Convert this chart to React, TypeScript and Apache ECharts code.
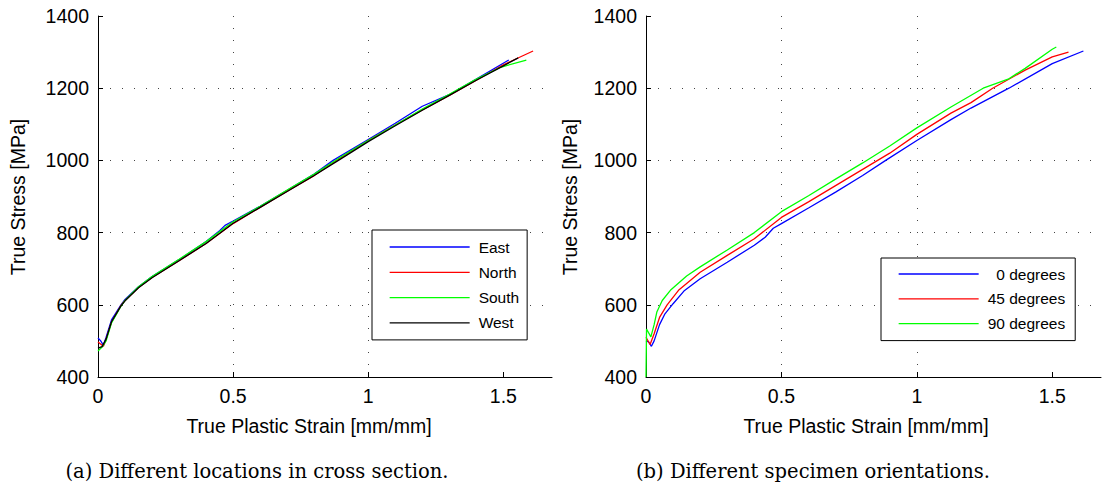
import React, { useEffect, useRef } from "react";
import * as echarts from "echarts";

// ---- data (strain [mm/mm], stress [MPa]) ----
const eastStrain = [0, 0.01, 0.02, 0.03, 0.05, 0.085, 0.1, 0.15, 0.2, 0.3, 0.4, 0.45, 0.47, 0.5, 0.6, 0.7, 0.8, 0.87, 1.0, 1.1, 1.2, 1.3, 1.4, 1.52];
const eastStress = [508, 500, 488, 510, 558, 600, 615, 650, 678, 725, 775, 805, 820, 832, 873, 917, 962, 1000, 1058, 1103, 1150, 1182, 1225, 1278];
const northStrain = [0, 0.02, 0.03, 0.05, 0.085, 0.1, 0.15, 0.2, 0.3, 0.4, 0.5, 0.6, 0.7, 0.8, 0.9, 1.0, 1.1, 1.2, 1.3, 1.4, 1.5, 1.61];
const northStress = [497, 485, 505, 552, 598, 612, 648, 676, 722, 770, 825, 870, 915, 958, 1008, 1055, 1098, 1140, 1180, 1222, 1265, 1303];
const southStrain = [0, 0.015, 0.03, 0.05, 0.085, 0.1, 0.15, 0.2, 0.3, 0.4, 0.5, 0.6, 0.7, 0.8, 0.9, 1.0, 1.1, 1.2, 1.3, 1.4, 1.49, 1.585];
const southStress = [472, 483, 500, 550, 596, 612, 650, 678, 726, 775, 830, 873, 918, 962, 1010, 1055, 1098, 1142, 1183, 1225, 1258, 1278];
const westStrain = [0, 0.015, 0.03, 0.05, 0.085, 0.1, 0.15, 0.2, 0.3, 0.4, 0.5, 0.6, 0.7, 0.8, 0.9, 1.0, 1.1, 1.2, 1.3, 1.4, 1.5, 1.555];
const westStress = [480, 484, 505, 553, 597, 611, 647, 675, 722, 770, 826, 870, 914, 958, 1005, 1052, 1096, 1139, 1180, 1222, 1262, 1284];

const deg0Strain = [0, 0.01, 0.02, 0.03, 0.05, 0.07, 0.1, 0.14, 0.2, 0.3, 0.4, 0.44, 0.47, 0.5, 0.6, 0.7, 0.8, 0.885, 1.0, 1.126, 1.2, 1.34, 1.5, 1.615];
const deg0Stress = [500, 497, 485, 500, 545, 575, 603, 638, 672, 718, 765, 787, 812, 825, 868, 912, 958, 1000, 1055, 1113, 1145, 1200, 1268, 1303];
const deg45Strain = [0, 0.015, 0.03, 0.05, 0.078, 0.12, 0.2, 0.3, 0.4, 0.5, 0.6, 0.7, 0.8, 0.9, 1.0, 1.126, 1.2, 1.28, 1.4, 1.5, 1.56];
const deg45Stress = [510, 490, 520, 565, 600, 640, 690, 737, 783, 842, 885, 930, 975, 1020, 1072, 1131, 1160, 1200, 1250, 1287, 1300];
const deg90Strain = [0, 0.002, 0.018, 0.03, 0.04, 0.06, 0.09, 0.15, 0.2, 0.3, 0.4, 0.5, 0.6, 0.7, 0.8, 0.9, 1.0, 1.126, 1.245, 1.337, 1.4, 1.5, 1.515];
const deg90Stress = [400, 533, 511, 545, 580, 612, 640, 680, 705, 752, 800, 858, 902, 948, 993, 1040, 1090, 1148, 1200, 1225, 1255, 1308, 1314];

const xTicks = [0, 0.5, 1, 1.5];
const yTicks = [400, 600, 800, 1000, 1200, 1400];

const leftNames = ["East", "North", "South", "West"];
const rightNames = ["0 degrees", "45 degrees", "90 degrees"];

const zip = (xs: number[], ys: number[]) => xs.map((x, i) => [x, ys[i]]);

const FONT = "Liberation Sans";
const AX = 19.5;

export default function App() {
  const ref = useRef<HTMLDivElement>(null);
  useEffect(() => {
    if (!ref.current) return;
    const chart = echarts.init(ref.current, null, { renderer: "svg" });
    const gridLine = { show: true, showMinLine: false, showMaxLine: false, lineStyle: { color: "#444", width: 1, type: [1, 11] } };
    const xAxis = (gi: number) => ({
      type: "value", gridIndex: gi, min: 0, max: 1.68, interval: 0.5,
      axisLine: { show: true, onZero: false, lineStyle: { color: "#000", width: 1 } },
      axisTick: { show: true, inside: true, length: 5, customValues: xTicks, lineStyle: { color: "#000" } },
      axisLabel: { customValues: xTicks, color: "#000", fontFamily: FONT, fontSize: AX, margin: 9, formatter: (v: number) => String(v) },
      splitLine: gridLine,
    });
    const yAxis = (gi: number) => ({
      type: "value", gridIndex: gi, min: 400, max: 1400, interval: 200,
      axisLine: { show: true, onZero: false, lineStyle: { color: "#000", width: 1 } },
      axisTick: { show: true, inside: true, length: 5, lineStyle: { color: "#000" } },
      axisLabel: { customValues: yTicks, color: "#000", fontFamily: FONT, fontSize: AX, margin: 9, formatter: (v: number) => String(v) },
      splitLine: gridLine,
    });
    const line = (name: string, data: number[][], color: string, gi: number) => ({
      name, type: "line", xAxisIndex: gi, yAxisIndex: gi, data, symbol: "none", showSymbol: false,
      lineStyle: { color, width: 1.3 }, itemStyle: { color }, smooth: false,
    });
    const legendBase = {
      orient: "vertical", backgroundColor: "#fff", borderColor: "#000", borderWidth: 1,
      itemWidth: 80, itemHeight: 14, itemStyle: { opacity: 0 },
      lineStyle: { width: 1.3 },
      textStyle: { fontFamily: FONT, fontSize: 15.5, color: "#000", padding: [0, 0, 0, 4] }, selectedMode: false,
    };
    chart.setOption({
      animation: false,
      backgroundColor: "#fff",
      grid: [
        { left: 98, top: 16, width: 454, height: 361 },
        { left: 646, top: 16, width: 455, height: 361 },
      ],
      xAxis: [xAxis(0), xAxis(1)],
      yAxis: [yAxis(0), yAxis(1)],
      legend: [
        { ...legendBase, data: leftNames, left: 372, top: 230, padding: [9, 8, 9, 17], itemGap: 9.3 },
        { ...legendBase, data: rightNames, left: 881, top: 258, padding: [8, 10, 9, 17], itemGap: 8.8,
          formatter: (n: string) => (n === "0 degrees" ? "\u2007" + n : n) },
      ],
      series: [
        line(leftNames[0], zip(eastStrain, eastStress), "#0000ff", 0),
        line(leftNames[1], zip(northStrain, northStress), "#ff0000", 0),
        line(leftNames[2], zip(southStrain, southStress), "#00ff00", 0),
        line(leftNames[3], zip(westStrain, westStress), "#000000", 0),
        line(rightNames[0], zip(deg0Strain, deg0Stress), "#0000ff", 1),
        line(rightNames[1], zip(deg45Strain, deg45Stress), "#ff0000", 1),
        line(rightNames[2], zip(deg90Strain, deg90Stress), "#00ff00", 1),
      ],
      graphic: [
        { type: "text", x: 18, y: 197, rotation: Math.PI / 2, style: { text: "True Stress [MPa]", fontFamily: FONT, fontSize: AX, fill: "#000", align: "center", verticalAlign: "middle" } },
        { type: "text", x: 570, y: 197, rotation: Math.PI / 2, style: { text: "True Stress [MPa]", fontFamily: FONT, fontSize: AX, fill: "#000", align: "center", verticalAlign: "middle" } },
        { type: "text", x: 309, y: 426, style: { text: "True Plastic Strain [mm/mm]", fontFamily: FONT, fontSize: AX, fill: "#000", align: "center", verticalAlign: "middle" } },
        { type: "text", x: 866, y: 426, style: { text: "True Plastic Strain [mm/mm]", fontFamily: FONT, fontSize: AX, fill: "#000", align: "center", verticalAlign: "middle" } },
        { type: "text", x: 257, y: 471, style: { text: "(a) Different locations in cross section.", fontFamily: "DejaVu Serif", fontSize: 19.5, fill: "#000", align: "center", verticalAlign: "middle" } },
        { type: "text", x: 813, y: 471, style: { text: "(b) Different specimen orientations.", fontFamily: "DejaVu Serif", fontSize: 19.5, fill: "#000", align: "center", verticalAlign: "middle" } },
      ],
    });
    return () => chart.dispose();
  }, []);
  return <div ref={ref} style={{ position: "absolute", left: 0, top: 0, width: 1102, height: 492 }} />;
}
